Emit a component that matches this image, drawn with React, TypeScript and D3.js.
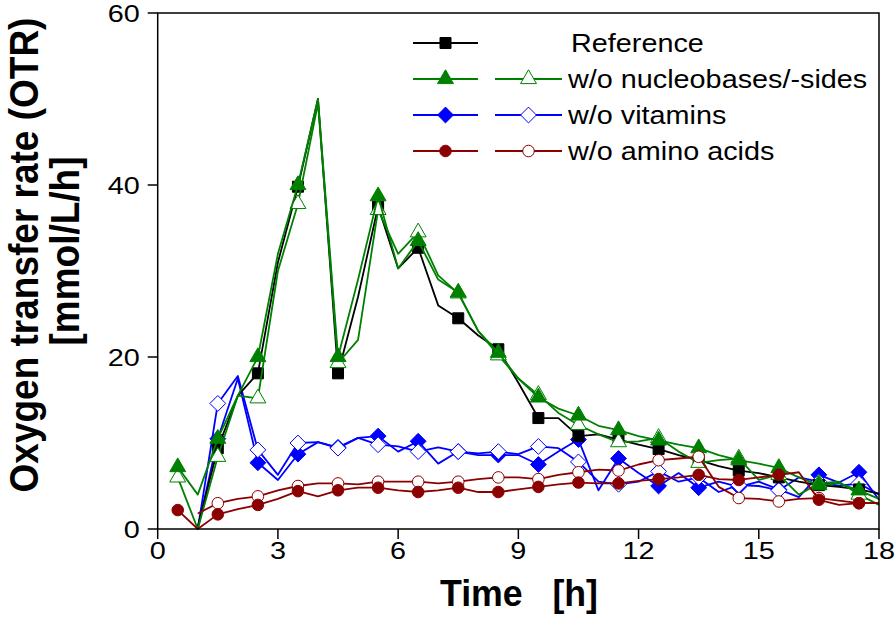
import { useRef, useEffect } from "react"
import * as d3 from "d3"

// sampling times (h); markers sit on the x.5 points
const hours = [0.5, 1, 1.5, 2, 2.5, 3, 3.5, 4, 4.5, 5, 5.5, 6, 6.5, 7, 7.5, 8, 8.5, 9, 9.5, 10,
  10.5, 11, 11.5, 12, 12.5, 13, 13.5, 14, 14.5, 15, 15.5, 16, 16.5, 17, 17.5, 18]

const reference = [null, 0.3, 9.4, 15.5, 18.1, 31, 39.8, 50, 18.1, 27, 37.5, 30.3, 32.7, 26, 24.5, 22.5, 20.9, 17, 12.9, 12.9,
  10.8, 11.0, 10.4, 9.8, 9.3, 8.6, 8.0, 7.3, 6.8, 6.5, 6.0, 5.5, 5.1, 4.9, 4.6, 4.1]
const nucleoA = [7.2, 4.0, 10.5, 15.5, 20, 32, 40, 50, 20, 29, 38.7, 30.3, 33.5, 29, 27.5, 23, 20.5, 17.5, 15.3, 14,
  13.2, 12, 11.5, 10.8, 10.3, 9.8, 9.4, 8.6, 8.0, 7.6, 7.1, 6.0, 5.1, 5.3, 4.5, 3.5]
const nucleoB = [6.0, 0.0, 8.4, 15.5, 15.2, 30, 37.8, 49.5, 19.3, 22, 37.1, 32, 34.5, 29.5, 27.4, 23, 20.2, 17.5, 15.6, 13.5,
  12.1, 11, 10.1, 10.2, 10.6, 9.0, 7.7, 8.0, 8.2, 5.7, 6.3, 4.0, 5.3, 5.5, 4.0, 2.8]
const vitaminsA = [null, 0, 10.5, 17.5, 7.7, 5.7, 8.7, 10.1, 9.5, 10.6, 10.8, 9.0, 10.2, 7.6, 9.0, 8.6, 8.6, 8.6, 7.5, 9.0,
  10.4, 4.5, 8.2, 6.5, 5.0, 6.5, 4.8, 5.5, 4.9, 5.5, 4.6, 3.7, 6.3, 5.4, 6.6, 3.4]
const vitaminsB = [null, 0, 14.6, 17.8, 9.2, 6.3, 10.0, 10.1, 9.4, 10.6, 9.8, 9.6, 9.0, 9.5, 9.0, 8.8, 9.0, 8.7, 9.6, 9.4,
  7.8, 5.5, 5.2, 5.5, 6.7, 5.5, 6.0, 4.3, 5.1, 5.0, 4.5, 6.0, 5.5, 5.0, 5.3, 4.0]
const aminoA = [2.2, 0, 1.7, 2.3, 2.8, 3.5, 4.4, 3.8, 4.5, 4.8, 4.8, 4.5, 4.3, 4.5, 4.8, 4.3, 4.3, 4.6, 4.9, 5.2,
  5.4, 5.3, 5.3, 5.6, 5.8, 6.0, 6.3, 5.8, 5.7, 6.0, 6.3, 6.6, 3.4, 2.8, 3.0, 3.0]
const aminoB = [null, 1.8, 3.0, 3.5, 3.8, 4.5, 5.0, 5.3, 5.3, 5.2, 5.5, 5.5, 5.5, 5.3, 5.5, 5.8, 6.0, 6.0, 5.8, 6.3,
  6.6, 6.9, 6.8, 7.5, 8.0, 8.2, 8.4, 4.9, 3.6, 3.5, 3.2, 3.5, 3.6, 3.3, 3.0, 3.0]

const xTicks = [0, 3, 6, 9, 12, 15, 18]
const yTicks = [0, 20, 40, 60]
const legendLabels = ["Reference", "w/o nucleobases/-sides", "w/o vitamins", "w/o amino acids"]

const FONT = "'Liberation Sans', Arial, sans-serif"

// square-ish diamond, wider than d3's built-in one
const wideDiamond = {
  draw(ctx: any, size: number) {
    const r = Math.sqrt(size / 2)
    ctx.moveTo(0, -r)
    ctx.lineTo(r, 0)
    ctx.lineTo(0, r)
    ctx.lineTo(-r, 0)
    ctx.closePath()
  }
}

export default function App() {
  const svgRef = useRef<SVGSVGElement>(null)

  useEffect(() => {
    const width = 896, height = 621
    const svg = d3.select(svgRef.current)
    svg.selectAll("*").remove()
    svg.attr("width", width).attr("height", height)

    const left = 157.7, right = 879, top = 13, bottom = 529
    const x = d3.scaleLinear().domain([0, 18]).range([left, right])
    const y = d3.scaleLinear().domain([0, 60]).range([bottom, top])

    const series = [
      { values: vitaminsA, color: "#0000ff", shape: "diamond", filled: true },
      { values: vitaminsB, color: "#0000ff", shape: "diamond", filled: false },
      { values: reference, color: "#000000", shape: "square", filled: true },
      { values: nucleoB, color: "#008000", shape: "triangle", filled: false },
      { values: nucleoA, color: "#008000", shape: "triangle", filled: true },
      { values: aminoB, color: "#8b0000", shape: "circle", filled: false },
      { values: aminoA, color: "#8b0000", shape: "circle", filled: true },
    ]

    const symbolFor = (shape: string) => {
      if (shape === "square") return d3.symbol(d3.symbolSquare, 121)
      if (shape === "triangle") return d3.symbol(d3.symbolTriangle, 110)
      if (shape === "circle") return d3.symbol(d3.symbolCircle, 105)
      return d3.symbol(wideDiamond as any, 125)
    }

    const line = d3.line<[number, number | null]>()
      .defined(d => d[1] !== null)
      .x(d => x(d[0]))
      .y(d => y(d[1] as number))

    const plot = svg.append("g")
    series.forEach(s => {
      const pts = hours.map((h, i) => [h, s.values[i]] as [number, number | null])
      plot.append("path")
        .attr("d", line(pts))
        .attr("fill", "none")
        .attr("stroke", s.color)
        .attr("stroke-width", 1.8)
        .attr("stroke-linejoin", "round")
      const marks = pts.filter(p => p[1] !== null && p[0] % 1 === 0.5)
      plot.selectAll(null)
        .data(marks)
        .enter()
        .append("path")
        .attr("d", symbolFor(s.shape)())
        .attr("transform", d => `translate(${x(d[0])},${y(d[1] as number)})`)
        .attr("fill", s.filled ? s.color : "#ffffff")
        .attr("stroke", s.color)
        .attr("stroke-width", 1)
    })

    // frame
    svg.append("rect")
      .attr("x", left).attr("y", top)
      .attr("width", right - left).attr("height", bottom - top)
      .attr("fill", "none").attr("stroke", "#000").attr("stroke-width", 1.5)

    // ticks and tick labels
    const xg = svg.append("g")
    xTicks.forEach(t => {
      xg.append("line").attr("x1", x(t)).attr("x2", x(t)).attr("y1", bottom).attr("y2", bottom + 10)
        .attr("stroke", "#000").attr("stroke-width", 1.5)
      xg.append("text").text(t)
        .attr("transform", `translate(${x(t)},${bottom + 30}) scale(1.2,1)`)
        .attr("text-anchor", "middle").attr("font-family", FONT).attr("font-size", 24)
    })
    const yg = svg.append("g")
    yTicks.forEach(t => {
      yg.append("line").attr("x1", left - 10).attr("x2", left).attr("y1", y(t)).attr("y2", y(t))
        .attr("stroke", "#000").attr("stroke-width", 1.5)
      yg.append("text").text(t)
        .attr("transform", `translate(${left - 18},${y(t) + 8.5}) scale(1.2,1)`)
        .attr("text-anchor", "end").attr("font-family", FONT).attr("font-size", 24)
    })

    // axis titles
    svg.append("text").text("Time   [h]")
      .attr("transform", "translate(519,606) scale(1.05,1.1)")
      .attr("text-anchor", "middle").attr("font-family", FONT)
      .attr("font-size", 34).attr("font-weight", "bold")
      .style("white-space", "pre")
    svg.append("text").text("Oxygen transfer rate (OTR)")
      .attr("transform", "translate(38,255) rotate(-90) scale(1,1.08)")
      .attr("text-anchor", "middle").attr("font-family", FONT)
      .attr("font-size", 37).attr("font-weight", "bold")
    svg.append("text").text("[mmol/L/h]")
      .attr("transform", "translate(79,251) rotate(-90) scale(1,1.08)")
      .attr("text-anchor", "middle").attr("font-family", FONT)
      .attr("font-size", 37).attr("font-weight", "bold")

    // legend
    const legendRows = [
      { color: "#000000", shape: "square", twin: false },
      { color: "#008000", shape: "triangle", twin: true },
      { color: "#0000ff", shape: "diamond", twin: true },
      { color: "#8b0000", shape: "circle", twin: true },
    ]
    const lg = svg.append("g")
    legendRows.forEach((r, i) => {
      const cy = 43 + i * 36
      const segs: [number, number, boolean][] = [[413, 478, true]]
      if (r.twin) segs.push([495, 562, false])
      segs.forEach(([a, b, filled]) => {
        lg.append("line").attr("x1", a).attr("x2", b).attr("y1", cy).attr("y2", cy)
          .attr("stroke", r.color).attr("stroke-width", 1.8)
        lg.append("path").attr("d", symbolFor(r.shape)())
          .attr("transform", `translate(${(a + b) / 2},${cy})`)
          .attr("fill", filled ? r.color : "#ffffff")
          .attr("stroke", r.color).attr("stroke-width", 1)
      })
      lg.append("text").text(legendLabels[i])
        .attr("transform", `translate(${i === 0 ? 571 : 568},${cy + 9}) scale(1.2,1.05)`)
        .attr("font-family", FONT).attr("font-size", 24)
    })
  }, [])

  return (
    <div>
      <svg ref={svgRef} style={{ display: "block", position: "absolute", left: 0, top: 0 }}></svg>
    </div>
  )
}
